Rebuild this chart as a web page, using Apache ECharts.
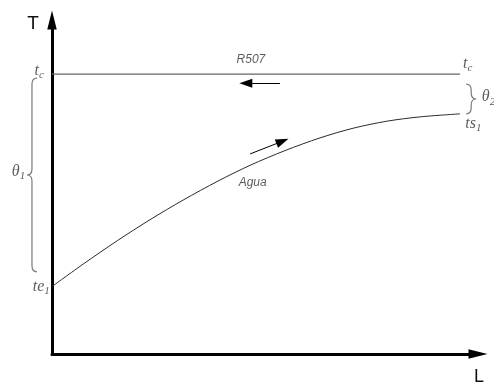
<!DOCTYPE html>
<html>
<head>
<meta charset="utf-8">
<script src="https://cdn.jsdelivr.net/npm/echarts@6/dist/echarts.min.js"></script>
<style>
  html, body { margin: 0; padding: 0; background: #fff; }
  #chart { width: 494px; height: 383px; }
</style>
</head>
<body>
<div id="chart"></div>
<script>
// Water temperature along the exchanger length (L, T in arbitrary units 0..100)
const aguaL = [0, 7.3, 15.3, 23.0, 30.8, 39.0, 46.5, 54.7, 62.9, 70.7, 78.6, 86.4, 95.8];
const aguaT = [20.2, 26.9, 33.9, 40.2, 46.1, 51.8, 56.5, 60.9, 64.7, 67.6, 69.7, 71.0, 71.9];

// Condensing refrigerant (R507) at constant temperature t_c
const r507L = [0, 95.8];
const r507T = [83.8, 83.8];

// Flow-direction arrows: [L start, T start] -> [L end, T end]
const r507Arrow = [[53.5, 81.1], [45.5, 81.1]];
const aguaArrow = [[46.5, 59.9], [54.1, 63.7]];

// Braces for the temperature differences: [L, T top, T bottom, tip side]
const braces = [
  [-4.7, 82.6, 24.6, -1],  // theta 1
  [98.4, 80.8, 71.9, 1]    // theta 2
];

// Math labels: rich text, anchor [L, T], horizontal alignment
const mathLabels = [
  { text: '{v|t}{s|c}', at: [-1.9, 84.7], align: 'right' },
  { text: '{v|te}{s|1}', at: [-0.5, 20.1], align: 'right' },
  { text: '{v|θ}{s|1}', at: [-6.3, 54.5], align: 'right' },
  { text: '{v|t}{s|c}', at: [96.5, 86.8], align: 'left' },
  { text: '{v|ts}{s|1}', at: [97.0, 68.9], align: 'left' },
  { text: '{v|θ}{s|2}', at: [100.9, 76.9], align: 'left' }
];

// Fluid names
const fluidLabels = [
  { text: 'R507', at: [46.7, 88.0] },
  { text: 'Agua', at: [47.1, 51.2] }
];

const triangle = 'path://M5,0 L10,20 L0,20 Z';
const serif = '"Liberation Serif", "DejaVu Serif", serif';

const chart = echarts.init(document.getElementById('chart'), null, { renderer: 'canvas' });

const axisCommon = {
  type: 'value',
  min: 0,
  max: 100,
  axisLabel: { show: false },
  axisTick: { show: false },
  splitLine: { show: false },
  axisLine: {
    show: true,
    onZero: false,
    symbol: ['none', triangle],
    lineStyle: { color: '#000', width: 3 }
  }
};

const mathRich = {
  v: { fontFamily: serif, fontStyle: 'italic', fontSize: 16, color: '#333', lineHeight: 20 },
  s: { fontFamily: serif, fontStyle: 'italic', fontSize: 11, color: '#333', lineHeight: 11, verticalAlign: 'bottom' }
};

function bracePath(params, api) {
  const top = api.coord([api.value(0), api.value(1)]);
  const bot = api.coord([api.value(0), api.value(2)]);
  const dir = api.value(3);
  const x = top[0], yT = top[1], yB = bot[1], yM = (yT + yB) / 2;
  const w = 5, t = 5, r = 6;
  const d = [
    'M', x - dir * w, yT,
    'Q', x, yT, x, yT + r,
    'L', x, yM - r,
    'Q', x, yM, x + dir * t, yM,
    'Q', x, yM, x, yM + r,
    'L', x, yB - r,
    'Q', x, yB, x - dir * w, yB
  ].join(' ');
  return {
    type: 'path',
    shape: { pathData: d },
    style: { fill: 'none', stroke: '#7a7a7a', lineWidth: 1.2 }
  };
}

const option = {
  backgroundColor: '#fff',
  animation: false,
  grid: { left: 52, right: 16, top: 20, bottom: 29, outerBoundsMode: 'none' },
  xAxis: Object.assign({}, axisCommon, { axisLine: Object.assign({}, axisCommon.axisLine, { symbolSize: [13, 19] }) }),
  yAxis: Object.assign({}, axisCommon, { axisLine: Object.assign({}, axisCommon.axisLine, { symbolSize: [14, 19] }) }),
  series: [
    {
      name: 'R507',
      type: 'line',
      data: r507L.map((l, i) => [l, r507T[i]]),
      showSymbol: false,
      lineStyle: { color: '#666', width: 1.2 },
      silent: true,
      z: 3,
      markLine: {
        silent: true,
        symbol: ['none', triangle],
        symbolSize: [9, 13],
        label: { show: false },
        lineStyle: { color: '#000', width: 1, type: 'solid' },
        data: [
          [{ coord: r507Arrow[0] }, { coord: r507Arrow[1] }],
          [{ coord: aguaArrow[0] }, { coord: aguaArrow[1] }]
        ]
      }
    },
    {
      name: 'Agua',
      type: 'line',
      data: aguaL.map((l, i) => [l, aguaT[i]]),
      smooth: 0.3,
      showSymbol: false,
      lineStyle: { color: '#2a2a2a', width: 1 },
      silent: true,
      z: 3
    },
    {
      type: 'custom',
      data: braces,
      renderItem: bracePath,
      clip: false,
      silent: true
    },
    {
      type: 'scatter',
      clip: false,
      silent: true,
      symbolSize: 1,
      itemStyle: { color: 'rgba(0,0,0,0)' },
      data: mathLabels.map(m => ({
        value: m.at,
        label: {
          show: true,
          position: 'inside',
          align: m.align,
          verticalAlign: 'middle',
          formatter: m.text,
          rich: mathRich
        }
      }))
    },
    {
      type: 'scatter',
      clip: false,
      silent: true,
      symbolSize: 1,
      itemStyle: { color: 'rgba(0,0,0,0)' },
      data: fluidLabels.map(f => ({
        value: f.at,
        label: {
          show: true,
          position: 'inside',
          align: 'center',
          verticalAlign: 'middle',
          formatter: f.text,
          fontFamily: 'Liberation Sans',
          fontStyle: 'italic',
          fontSize: 12,
          color: '#333'
        }
      }))
    }
  ],
  graphic: [
    {
      type: 'text', x: 33, y: 24,
      style: { text: 'T', font: '19px "Liberation Sans"', fill: '#111', align: 'center', verticalAlign: 'middle' }
    },
    {
      type: 'text', x: 479, y: 377,
      style: { text: 'L', font: '18px "Liberation Sans"', fill: '#111', align: 'center', verticalAlign: 'middle' }
    }
  ]
};

chart.setOption(option);
</script>
</body>
</html>
